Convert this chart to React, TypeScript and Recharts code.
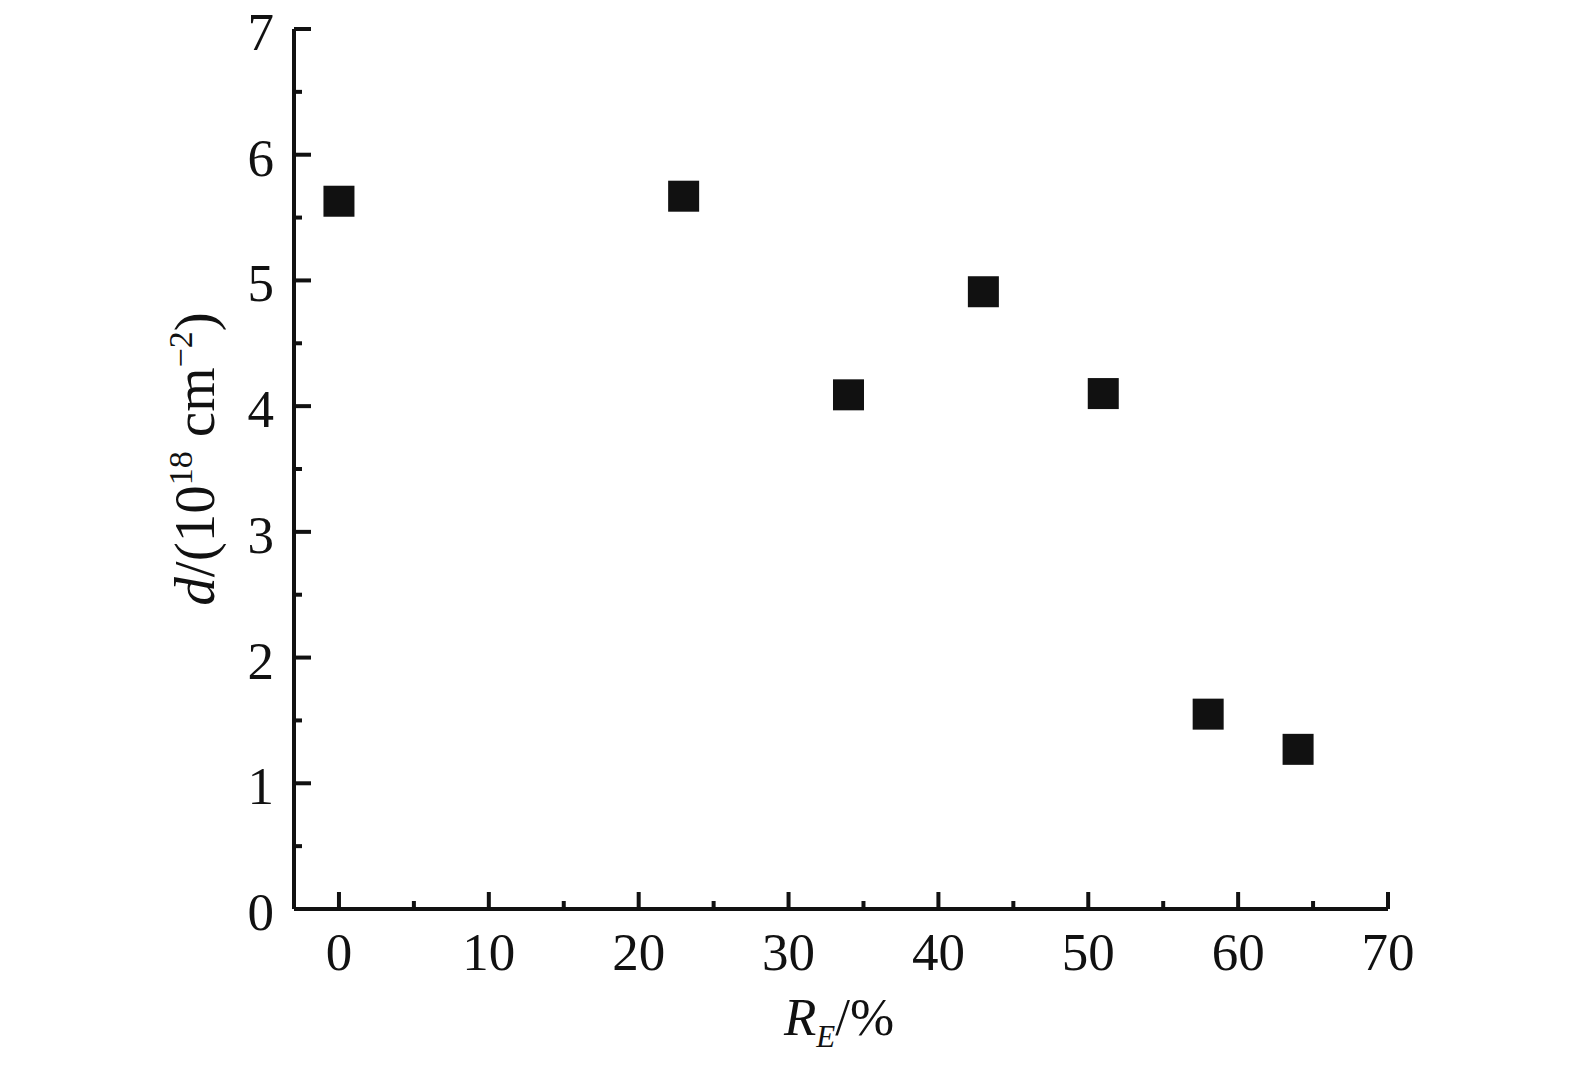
import React from "react";
import { ScatterChart, Scatter, XAxis, YAxis, Label } from "recharts";

// reduction rate R_E (%) and dislocation density d (10^18 cm^-2)
const reductionRate = [0, 23, 34, 43, 51, 58, 64];
const density = [5.63, 5.67, 4.09, 4.91, 4.1, 1.55, 1.27];

const xTicks = [0, 5, 10, 15, 20, 25, 30, 35, 40, 45, 50, 55, 60, 65, 70];
const yTicks = [0, 0.5, 1, 1.5, 2, 2.5, 3, 3.5, 4, 4.5, 5, 5.5, 6, 6.5, 7];

const data = reductionRate.map((r, i) => ({ r, d: density[i] }));

const INK = "#111";
const FONT = "'Liberation Serif', 'Times New Roman', serif";

const XTick = (props: any) => {
  const { x, y, payload } = props;
  const major = payload.value % 10 === 0;
  return (
    <g>
      <line x1={x} y1={y} x2={x} y2={y - (major ? 17 : 8)} stroke={INK} strokeWidth={4} />
      {major && (
        <text x={x} y={y + 61} textAnchor="middle" fontSize={53} fontFamily={FONT} fill={INK}>
          {payload.value}
        </text>
      )}
    </g>
  );
};

const YTick = (props: any) => {
  const { x, y, payload } = props;
  const major = Number.isInteger(payload.value);
  return (
    <g>
      <line x1={x} y1={y} x2={x + (major ? 17 : 8)} y2={y} stroke={INK} strokeWidth={4} />
      {major && (
        <text x={x - 20} y={y + 21} textAnchor="end" fontSize={53} fontFamily={FONT} fill={INK}>
          {payload.value}
        </text>
      )}
    </g>
  );
};

const Square = (props: any) => {
  const { cx, cy } = props;
  return <rect x={cx - 15.5} y={cy - 15.5} width={31} height={31} fill={INK} />;
};

const XTitle = () => (
  <text x={839} y={1035} textAnchor="middle" fontSize={53} fontFamily={FONT} fill={INK}>
    <tspan fontStyle="italic">R</tspan>
    <tspan fontStyle="italic" fontSize={31} dy={12}>E</tspan>
    <tspan dy={-12}>/%</tspan>
  </text>
);

const YTitle = () => (
  <text
    transform="translate(214, 459) rotate(-90)"
    textAnchor="middle"
    fontSize={57}
    fontFamily={FONT}
    fill={INK}
  >
    <tspan fontStyle="italic">d</tspan>
    <tspan>/(10</tspan>
    <tspan fontSize={34} dy={-22}>18</tspan>
    <tspan dy={22}> cm</tspan>
    <tspan fontSize={34} dy={-22}>−2</tspan>
    <tspan dy={22}>)</tspan>
  </text>
);

export default function App() {
  return (
    <div style={{ position: "absolute", left: 0, top: 0, background: "#fff" }}>
      <ScatterChart
        width={1575}
        height={1065}
        margin={{ top: 29, right: 187, bottom: 56, left: 194 }}
      >
        <XAxis
          type="number"
          dataKey="r"
          domain={[-3, 70]}
          ticks={xTicks}
          interval={0}
          height={100}
          tickSize={0}
          tickMargin={0}
          tickLine={false}
          tick={<XTick />}
          axisLine={{ stroke: INK, strokeWidth: 4 }}
          allowDataOverflow
        >
          <Label content={<XTitle />} />
        </XAxis>
        <YAxis
          type="number"
          dataKey="d"
          domain={[0, 7]}
          ticks={yTicks}
          interval={0}
          width={100}
          tickSize={0}
          tickMargin={0}
          tickLine={false}
          tick={<YTick />}
          axisLine={{ stroke: INK, strokeWidth: 4 }}
          allowDataOverflow
        >
          <Label content={<YTitle />} />
        </YAxis>
        <Scatter data={data} shape={<Square />} isAnimationActive={false} />
      </ScatterChart>
    </div>
  );
}
